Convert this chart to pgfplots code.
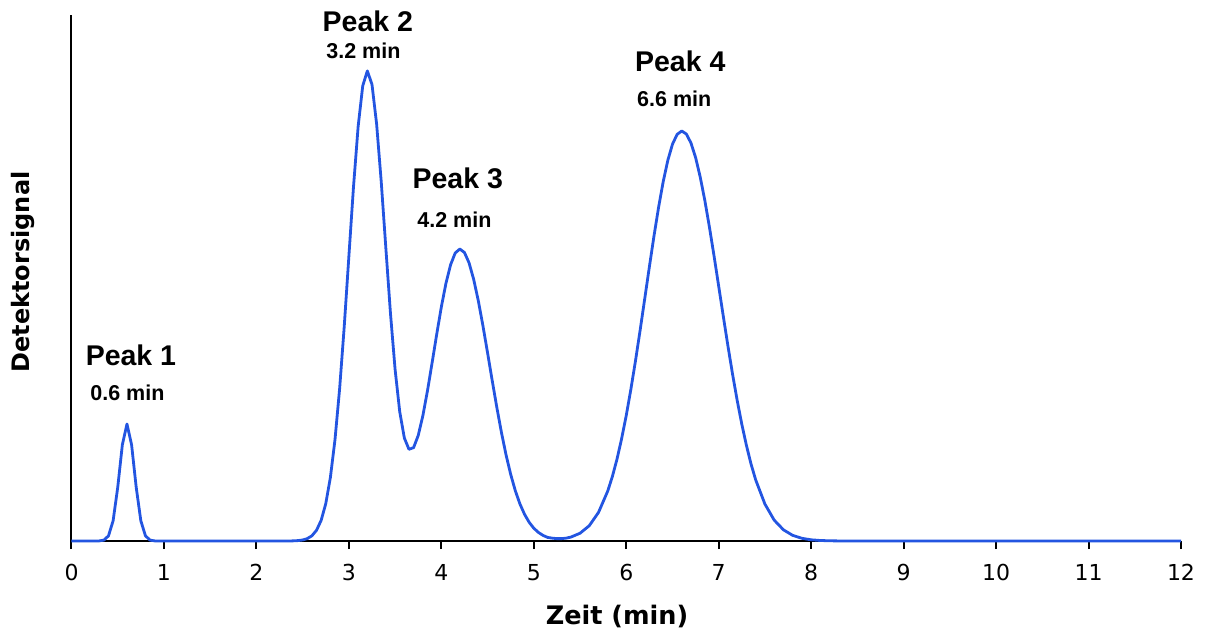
\documentclass[border=0pt]{standalone}
\usepackage{pgfplots}
\pgfplotsset{compat=1.18}
\usepackage{fontspec}
\setmainfont{Liberation Sans}
\newfontfamily\dejavu{DejaVu Sans}
\definecolor{peakblue}{RGB}{35,85,225}
\begin{document}
\begin{tikzpicture}[x=1pt,y=1pt]
\path[use as bounding box] (-71.5,-89) rectangle (1135.5,541);
\begin{axis}[
  at={(0,0)}, anchor=south west,
  scale only axis, width=1109.5pt, height=526pt,
  xmin=0, xmax=12, ymin=0, ymax=526,
  axis x line*=bottom, axis y line*=left,
  axis line style={line width=2pt, black},
  xtick={0,1,2,3,4,5,6,7,8,9,10,11,12}, ytick=\empty,
  tick align=outside, major tick length=8pt,
  tick style={line width=2pt, black},
  /pgf/number format/assume math mode=true,
  xticklabel style={font=\dejavu\fontsize{22}{22}\selectfont, yshift=-12pt},
  xlabel={Zeit (min)}, ylabel={Detektorsignal},
  xlabel style={font=\dejavu\bfseries\fontsize{25.5}{25.5}\selectfont, at={(axis description cs:0.4917,-0.1578)}, anchor=base},
  ylabel style={font=\dejavu\bfseries\fontsize{24}{24}\selectfont, at={(axis description cs:-0.0383,0.5114)}, anchor=base, rotate=0},
  clip=false,
]
\addplot[peakblue, line width=2.8pt, line join=round] coordinates {
(0,0) (0.25,0) (0.30,0.10) (0.35,0.89) (0.40,5.14) (0.45,20.2) (0.50,53.6) (0.55,96.2) (0.60,117) (0.65,96.2) (0.70,53.6) (0.75,20.2) (0.80,5.14) (0.85,0.89) (0.90,0.10) (0.95,0)
(2.35,0) (2.40,0.16) (2.45,0.41) (2.50,1.03) (2.55,2.39) (2.60,5.21) (2.65,10.7) (2.70,20.6) (2.75,37.3) (2.80,63.5) (2.85,101.4) (2.90,152.3) (2.95,214.7)
(3.00,284.6) (3.05,354.2) (3.10,414.3) (3.15,455.2) (3.20,470.1) (3.25,456.5) (3.30,417.1) (3.35,359.3) (3.40,292.8) (3.45,227.5) (3.50,171.5) (3.55,129.3) (3.60,103.0) (3.65,91.7) (3.70,93.4) (3.75,105.5) (3.80,125.2) (3.85,150.2) (3.90,178.1) (3.95,206.7)
(4.00,234.0) (4.05,257.7) (4.10,276.2) (4.15,288.0) (4.20,292.0) (4.25,288.5) (4.30,278.1) (4.35,261.6) (4.40,240.2) (4.45,215.2) (4.50,188.2) (4.55,160.6) (4.60,133.7) (4.65,108.6) (4.70,86.1) (4.75,66.7) (4.80,50.3) (4.85,37.1) (4.90,26.7) (4.95,18.7)
(5.00,12.8) (5.05,8.58) (5.10,5.6) (5.15,3.56) (5.20,2.86) (5.25,2.37) (5.30,2.38) (5.35,2.87) (5.40,3.87) (5.50,7.76) (5.60,15.3) (5.70,28.6) (5.80,50.0) (5.85,64.5) (5.90,81.9) (5.95,102.3)
(6.00,125.5) (6.05,151.7) (6.10,180.2) (6.15,210.7) (6.20,242.3) (6.25,274.1) (6.30,305.0) (6.35,333.8) (6.40,359.5) (6.45,380.8) (6.50,396.8) (6.55,406.6) (6.60,410)
(6.65,407.0) (6.70,398.0) (6.75,383.5) (6.80,364.0) (6.85,340.5) (6.90,313.7) (6.95,284.8)
(7.00,254.7) (7.05,224.5) (7.10,194.9) (7.15,166.7) (7.20,140.5) (7.25,116.7) (7.30,95.5) (7.35,76.9) (7.40,61.1) (7.50,36.9) (7.60,20.9) (7.70,11.2) (7.80,5.66) (7.90,2.69)
(8.00,1.2) (8.10,0.51) (8.20,0.2) (8.30,0.08) (8.40,0) (12,0)
};
\node[anchor=base, font=\bfseries\fontsize{28.5}{28.5}\selectfont] at (axis cs:0.643,176) {Peak 1};
\node[anchor=base, font=\bfseries\fontsize{21.5}{21.5}\selectfont] at (axis cs:0.605,141) {0.6 min};
\node[anchor=base, font=\bfseries\fontsize{28.5}{28.5}\selectfont] at (axis cs:3.205,509) {Peak 2};
\node[anchor=base, font=\bfseries\fontsize{21.5}{21.5}\selectfont] at (axis cs:3.157,482) {3.2 min};
\node[anchor=base, font=\bfseries\fontsize{28.5}{28.5}\selectfont] at (axis cs:4.178,353) {Peak 3};
\node[anchor=base, font=\bfseries\fontsize{21.5}{21.5}\selectfont] at (axis cs:4.141,314) {4.2 min};
\node[anchor=base, font=\bfseries\fontsize{28.5}{28.5}\selectfont] at (axis cs:6.584,469) {Peak 4};
\node[anchor=base, font=\bfseries\fontsize{21.5}{21.5}\selectfont] at (axis cs:6.519,434) {6.6 min};
\end{axis}
\end{tikzpicture}
\end{document}
